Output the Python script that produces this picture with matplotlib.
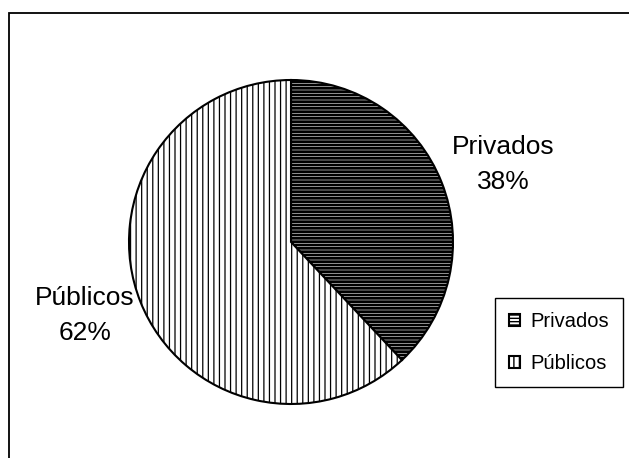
import numpy as np
import matplotlib
matplotlib.use('Agg')
import matplotlib.pyplot as plt
from matplotlib.patches import Rectangle

plt.rcParams['font.family'] = ['Liberation Sans', 'DejaVu Sans']

# data
labels = ['Privados', 'Públicos']
values = [38, 62]
hatches = ['-----', '|||']
hatch_widths = [2.0, 0.9]

W, H = 629, 458
fig = plt.figure(figsize=(W / 100, H / 100), dpi=100)
ax = fig.add_axes([0, 0, 1, 1])

center = (291, H - 242)
radius = 162

wedges, _ = ax.pie(values, startangle=90, counterclock=False,
                   center=center, radius=radius,
                   colors=['white', 'white'],
                   wedgeprops=dict(edgecolor='black', linewidth=1.5))
for w, h, hw in zip(wedges, hatches, hatch_widths):
    w.set_hatch(h)
    if hasattr(w, 'set_hatch_linewidth'):
        w.set_hatch_linewidth(hw)

# labels outside the slices (distance in radii, small angular nudge in degrees)
label_dist = [1.396, 1.35]
label_nudge = [-1.6, -2.0]
for w, lab, v, d, n in zip(wedges, labels, values, label_dist, label_nudge):
    ang = np.deg2rad((w.theta1 + w.theta2) / 2 + n)
    x = center[0] + d * radius * np.cos(ang)
    y = center[1] + d * radius * np.sin(ang)
    ax.text(x, y, f"{lab}\n{v}%", ha='center', va='center',
            fontsize=19, linespacing=1.6)

ax.set_xlim(0, W)
ax.set_ylim(0, H)
ax.set_aspect('auto')
ax.axis('off')

leg = fig.legend(wedges, labels, loc='upper left',
                 bbox_to_anchor=(495 / W, 1 - 298 / H), borderaxespad=0,
                 fontsize=14.5, frameon=True, fancybox=False,
                 edgecolor='black', framealpha=1,
                 handlelength=0.55, handleheight=0.55, handletextpad=0.5,
                 labelspacing=1.15, borderpad=0.7)
leg.get_frame().set_linewidth(1.0)

# outer chart frame (partly cut off on the right and bottom)
fig.patches.append(Rectangle((9 / W, -0.1), 1.2, (H - 13) / H + 0.1,
                             transform=fig.transFigure, fill=False,
                             edgecolor='black', linewidth=1.3))

fig.savefig('out.png', dpi=100)
